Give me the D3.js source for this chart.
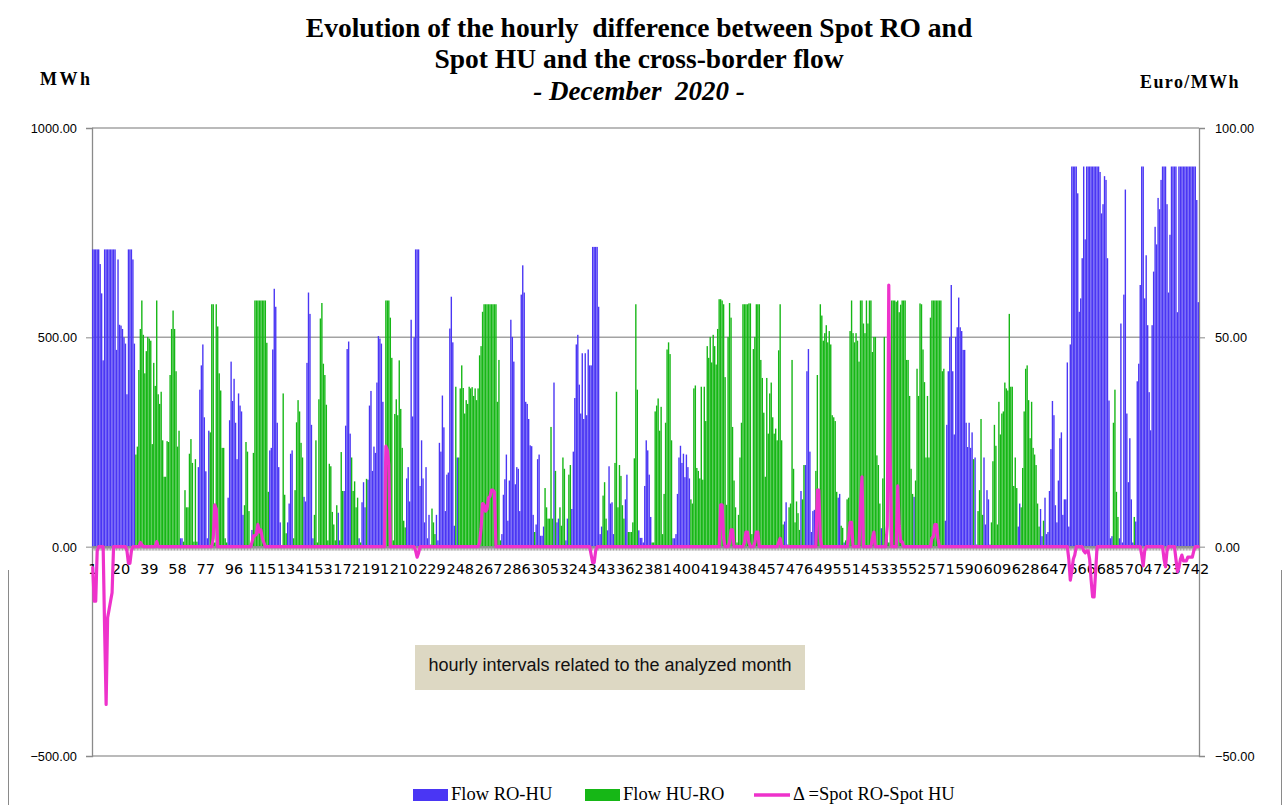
<!DOCTYPE html>
<html><head><meta charset="utf-8">
<script src="https://cdn.jsdelivr.net/npm/d3@7"></script>
<style>html,body{margin:0;padding:0;background:#fff;}svg{display:block;}</style>
</head><body>
<svg id="chart" width="1287" height="805"></svg>
<script>
// Net hourly flow, MWh, one row per day (positive = Flow RO-HU, negative = Flow HU-RO)
const netFlowByDay = [
[710,710,710,710,710,675,605,445,710,710,710,710,710,710,710,710,470,686,530,528,520,500,485,364],
[710,710,710,686,485,-220,-239,-422,-520,-588,-506,-414,-467,-501,-497,-492,-245,-439,-384,-588,-364,-341,-370,-254],
[-167,-167,-252,-250,-410,-520,-564,-520,-419,-239,-277,20,20,-12,-135,-94,-94,-222,-257,-200,-12,-209,-12,190],
[375,433,483,309,180,20,277,-273,-579,-579,-10,-579,-526,-414,-373,-236,-236,-20,-10,117,302,442,348,401],
[296,209,366,337,323,76,-99,-250,-227,-85,-5,40,-224,-588,-588,-588,-588,-588,-588,-588,-588,-487,-131,230],
[236,471,616,573,296,190,58,0,-366,-124,-32,58,103,222,230,-20,-135,-297,-350,-323,-248,-213,119,108],
[439,607,556,291,20,-76,-254,-10,-352,-545,-582,-437,-410,-339,-15,-198,-192,-83,-53,-15,-99,81,-15,-226],
[-133,133,289,472,490,270,-213,-133,-156,-94,-117,20,-10,106,154,94,-162,160,337,372,181,239,224,392],
[503,497,485,346,10,-588,-588,-588,-547,-451,-15,-317,-352,-314,-445,-329,-236,-62,-46,163,190,108,542,311],
[500,710,710,710,145,254,163,58,190,20,76,5,-91,-58,-30,76,15,248,227,361,285,85,172,177],
[521,597,488,50,-382,213,-213,-378,-433,-379,-318,-350,-341,-382,-378,-381,-360,-378,-350,-378,-457,-479,-561,-579],
[-579,-579,-579,-579,-579,-579,-579,-579,-346,-446,-15,30,124,161,220,62,158,542,501,442,149,190,186,85],
[602,672,607,346,341,305,242,240,76,-35,53,209,220,26,26,48,-140,-94,-67,-67,-286,-67,392,-181],
[58,67,-94,-50,-213,-186,15,67,-172,-195,90,227,355,483,506,387,318,462,305,462,314,471,433,433],
[716,716,716,716,573,30,48,-122,-154,-67,39,192,103,106,30,-200,-370,-94,-195,-169,-99,-67,113,172],
[-35,-35,-35,-58,-211,-579,-375,39,21,21,10,145,254,230,172,71,-10,-10,-323,-337,-354,-277,-334,-30],
[-126,-296,-471,-488,-460,-254,20,20,30,126,213,241,200,222,166,220,190,163,-113,-103,-378,-385,-188,-181],
[-163,-382,-160,-382,-300,-479,-451,-501,-440,-506,-479,-435,-520,-591,-591,-588,-579,-405,-100,-501,-582,-547,-286,-158],
[-94,-10,-76,-213,-296,-579,-579,-579,-579,-581,-581,-30,-472,-501,-579,-579,-579,-446,-403,-320,-167,-403,-270,-366],
[-392,-309,-270,-282,-254,-469,-579,-254,-53,60,106,5,-94,-103,-446,-186,-58,-108,-80,-40,133,-113,-195,195],
[419,472,227,35,85,88,-181,-410,-138,-579,-552,-492,-510,-529,-488,-515,-483,-314,-309,-300,-131,117,126,-50],
[-45,10,-15,-113,-117,-515,-588,-510,-488,-510,-492,-442,-588,-588,-533,-510,-588,-533,-588,-588,-465,-501,-501,-218],
[-195,-103,44,-163,-501,-30,-20,-10,-200,-588,-588,-588,-585,-588,-560,-578,-588,-588,-588,-446,-446,-360,-186,-126],
[119,-158,-425,-360,-581,-579,-471,-393,-213,-360,-213,-547,-588,-588,-588,-588,-588,-588,-588,-419,-425,62,291,419],
[501,625,419,268,501,524,595,524,515,470,470,296,238,296,236,273,-209,213,5,-85,-135,-305,-76,213],
[53,135,113,5,-58,-204,-291,-241,-53,-346,-268,-318,-323,-392,-378,-373,-556,-382,-382,-145,-213,-140,48,103],
[-94,-188,-323,-425,-433,-350,-259,-346,-236,-220,-195,-103,-48,90,25,-62,117,30,35,133,233,348,314,99],
[58,158,259,273,76,113,113,440,48,483,908,908,908,908,844,561,593,689,908,734,908,908,908,908],
[908,908,908,908,908,895,796,818,885,876,689,349,20,25,-296,-375,-131,-71,20,533,10,602,853,318],
[154,259,113,10,-71,60,395,437,625,908,908,593,696,529,369,278,529,657,764,722,833,806,876,908],
[908,908,818,607,745,908,908,908,908,560,908,908,908,908,908,908,908,908,908,908,908,908,828,584]
];
// Δ = Spot RO - Spot HU, Euro/MWh, one row per day
const spreadByDay = [
[-5,-13,-13,-1,0,0,0,0,-20,-37.7,-17,-15,-13,-11,0,0,0,0,0,0,0,0,0,-1],
[-4,-4,-1,0,0,0,0,0,1,0.5,0,0,0,0,0,0,0,0,0,1.2,0,0,0,0],
[0,0,0,0,0,0,0,0,0,0,0,0,0,0,0,0,0,0,0,0,0,0,0,0],
[0,0,0,0,0,0,0,0,0,2,10,9,0,0,0,0,0,0,0,0,0,0,0,0],
[0,0,0,0,0,0,0,0,0,0,0,1,2.6,2.6,3,5.3,3.5,4,2,1,0,0,0,0],
[0,0,0,0,0,0,0,0,0,0,0,0,0,0,0,0,0,0,0,0,0,0,0,0],
[0,0,0,0,0,0,0,0,0,0,0,0,0,0,0,0,0,0,0,0,0,0,0,0],
[0,0,0,0,0,0,0,0,0,0,0,0,0,0,0,0,0,0,0,0,0,0,0,0],
[0,0,0,0,0,24,23,19.5,0,0,0,0,0,0,0,0,0,0,0,0,0,0,0,0],
[0,-1,-2.5,-1.5,0,0,0,0,0,0,0,0,0,0,0,0,0,0,0,0,0,0,0,0],
[0,0,0,0,0,0,0,0,0,0,0,0,0,0,0,0,0,0,0,0,1,4.4,10.3,10],
[8.5,9,11.7,12,13.5,13.5,13,0,0,0,0,0,0,0,0,0,0,0,0,0,0,0,0,0],
[0,0,0,0,0,0,0,0,0,0,0,0,0,0,0,0,0,0,0,0,0,0,0,0],
[0,0,0,0,0,0,0,0,0,0,0,0,0,0,0,0,0,0,0,0,0,0,0,-2],
[-3.8,-3.8,-1,0,0,0,0,0,0,0,0,0,0,0,0,0,0,0,0,0,0,0,0,0],
[0,0,0,0,0,0,0,0,0,0,0,0,0,0,0,0,0,0,0,0,0,0,0,0],
[0,0,0,0,0,0,0,0,0,0,0,0,0,0,0,0,0,0,0,0,0,0,0,0],
[0,0,0,0,0,0,0,0,0,0,0,0,0,0,10,10,2,0,0,0,1,4,4,0],
[0,0,0,0,0,0,1,3.5,3.5,1,0,0,0,1,3.5,3.5,0,0,0,0,0,0,0,0],
[0,0,0,0,0,1,2,0,0,0,0,0,0,0,0,0,0,0,0,0,0,0,0,0],
[0,0,0,0,0,0,0,13.5,13.5,2,0,0,0,0,0,0,0,0,0,0,0,0,0,0],
[0,0,0,0,2,5.8,5.8,0,0,0,0,0,10,16.7,0,0,0,0,0,0,2,3.5,0,0],
[0,0,0,0,0,0,5,62.5,20,0,0,0,0,14.5,5,1.2,1.2,0,0,0,0,0,0,0],
[0,0,0,0,0,0,0,0,0,0,0,0,2,2.5,5.3,5.3,2,0,0,0,0,0,0,0],
[0,0,0,0,0,0,0,0,0,0,0,0,0,0,0,0,0,0,0,0,0,0,0,0],
[0,0,0,0,0,0,0,0,0,0,0,0,0,0,0,0,0,0,0,0,0,0,0,0],
[0,0,0,0,0,0,0,0,0,0,0,0,0,0,0,0,0,0,0,0,0,0,0,0],
[0,0,0,0,0,0,0,0,-3,-8,-6,-3,-2,0,0,0,0,0,-1,-1.5,-1,-1,-3,-8],
[-12,-12,-6,0,0,0,0,0,0,0,0,0,0,0,0,0,0,0,0,0,0,0,0,0],
[0,0,0,0,0,0,0,0,0,-2,-4.6,-1,0,0,0,0,0,0,0,0,0,0,0,0],
[-3,-4.8,-1,0,0,0,0,0,-3,-6,-5,-3,-2,-3.4,-3.4,-3.4,-2.5,-2.5,-2.5,-2.5,-1,0,0,0]
];
const xTickLabels = [1,20,39,58,77,96,115,134,153,172,191,210,229,248,267,286,305,324,343,362,381,400,419,438,457,476,495,514,533,552,571,590,609,628,647,666,685,704,723,742];
const leftTicks = [1000, 500, 0, -500];
const rightTicks = [100, 50, 0, -50];
const titleLines = ["Evolution of the hourly  difference between Spot RO and", "Spot HU and the cross-border flow"];
const subtitle = "- December  2020 -";
const seriesNames = ["Flow RO-HU", "Flow HU-RO", "\u0394 =Spot RO-Spot HU"];
const colors = {roHu: "#4A36F4", huRo: "#16B716", spread: "#EE32CB"};

const netFlow = netFlowByDay.flat();
const spread = spreadByDay.flat();
const hours = netFlow.map((_, i) => i + 1);
const flowRoHu = netFlow.map(v => Math.max(v, 0));
const flowHuRo = netFlow.map(v => Math.max(-v, 0));

const svg = d3.select("#chart");
const L = 92, R = 1199, T = 128, B = 756;
const x = d3.scaleBand().domain(hours).range([L, R]).paddingInner(0.07).paddingOuter(0.03);
const yL = d3.scaleLinear().domain([-500, 1000]).range([B, T]);
const yR = d3.scaleLinear().domain([-50, 100]).range([B, T]);
const bw = x.bandwidth();
const sans = "Liberation Sans, Arial, sans-serif";
const serif = "Liberation Serif, Times New Roman, serif";

// gridlines
svg.append("g").selectAll("line").data(leftTicks.filter(d => d !== 0)).join("line")
  .attr("x1", L).attr("x2", R).attr("y1", d => yL(d)).attr("y2", d => yL(d))
  .attr("stroke", "#A3A3A3").attr("stroke-width", 1.5);

// left and right axes
svg.append("g").attr("transform", `translate(${L},0)`)
  .call(d3.axisLeft(yL).tickValues(leftTicks).tickSize(6).tickFormat(d3.format(".2f")))
  .call(g => g.select(".domain").attr("stroke", "#8A8A8A").attr("stroke-width", 1.3))
  .call(g => g.selectAll(".tick line").attr("stroke", "#8A8A8A"))
  .call(g => g.selectAll("text").attr("font-family", sans)
      .attr("font-size", 12.8).attr("fill", "#000").attr("x", -15).attr("dy", "0.36em"));
svg.append("g").attr("transform", `translate(${R},0)`)
  .call(d3.axisRight(yR).tickValues(rightTicks).tickSize(6).tickFormat(d3.format(".2f")))
  .call(g => g.select(".domain").attr("stroke", "#8A8A8A").attr("stroke-width", 1.3))
  .call(g => g.selectAll(".tick line").attr("stroke", "#8A8A8A"))
  .call(g => g.selectAll("text").attr("font-family", sans)
      .attr("font-size", 12.8).attr("fill", "#000").attr("x", 16).attr("dy", "0.36em"));

// bars
svg.append("g").selectAll("rect").data(hours).join("rect")
  .attr("x", h => x(h)).attr("width", bw)
  .attr("y", (h, i) => yL(flowRoHu[i])).attr("height", (h, i) => yL(0) - yL(flowRoHu[i]))
  .attr("fill", colors.roHu);
svg.append("g").selectAll("rect").data(hours).join("rect")
  .attr("x", h => x(h)).attr("width", bw)
  .attr("y", (h, i) => yL(flowHuRo[i])).attr("height", (h, i) => yL(0) - yL(flowHuRo[i]))
  .attr("fill", colors.huRo);

// category axis at zero: dense tick band + labels
svg.append("g").attr("transform", `translate(0,${yL(0)})`)
  .call(d3.axisBottom(x).tickValues(hours).tickSize(4).tickSizeOuter(0).tickFormat(""))
  .call(g => g.select(".domain").attr("stroke", "#8C8C8C").attr("stroke-width", 2.5))
  .call(g => g.selectAll(".tick line").attr("stroke", "#9A9A9A").attr("stroke-width", 0.9));
svg.append("g").attr("transform", `translate(0,${yL(0)})`)
  .call(d3.axisBottom(x).tickValues(xTickLabels).tickSize(0))
  .call(g => g.select(".domain").remove())
  .call(g => g.selectAll("text").attr("font-family", "DejaVu Sans, Verdana, sans-serif")
      .attr("font-size", 14.5).attr("fill", "#000").attr("y", 17).attr("dy", "0.71em"));

// spread line
const line = d3.line().x((d, i) => x(hours[i]) + bw / 2).y(d => yR(d));
svg.append("path").datum(spread).attr("d", line).attr("fill", "none")
  .attr("stroke", colors.spread).attr("stroke-width", 3.2).attr("stroke-linejoin", "round").attr("stroke-linecap", "round");

// annotation box
svg.append("rect").attr("x", 415).attr("y", 645).attr("width", 390).attr("height", 45).attr("fill", "#DDD8C3");
svg.append("text").attr("x", 610).attr("y", 671).attr("text-anchor", "middle")
  .attr("font-family", sans).attr("font-size", 18).attr("fill", "#111")
  .text("hourly intervals related to the analyzed month");

// titles
svg.append("g").selectAll("text").data(titleLines).join("text")
  .attr("x", 639).attr("y", (d, i) => 37 + i * 31).attr("text-anchor", "middle")
  .attr("font-family", serif).attr("font-weight", "bold").attr("font-size", 27.5).attr("fill", "#000")
  .style("white-space", "pre").text(d => d);
svg.append("text").attr("x", 639).attr("y", 100).attr("text-anchor", "middle")
  .attr("font-family", serif).attr("font-weight", "bold").attr("font-style", "italic").attr("font-size", 27)
  .style("white-space", "pre").text(subtitle);
svg.append("text").attr("x", 40).attr("y", 85).attr("font-family", serif).attr("font-weight", "bold")
  .attr("font-size", 18).attr("letter-spacing", 2.5).text("MWh");
svg.append("text").attr("x", 1140).attr("y", 88).attr("font-family", serif).attr("font-weight", "bold")
  .attr("font-size", 18).attr("letter-spacing", 1.4).text("Euro/MWh");

// outer frame fragments
svg.append("line").attr("x1", 8.5).attr("x2", 8.5).attr("y1", 570).attr("y2", 805).attr("stroke", "#8A8A8A");
svg.append("line").attr("x1", 1281.5).attr("x2", 1281.5).attr("y1", 570).attr("y2", 805).attr("stroke", "#8A8A8A");

// legend
const lg = svg.append("g").attr("font-family", serif).attr("font-size", 18.5);
const legendItems = [
  {name: seriesNames[0], type: "rect", color: colors.roHu, x: 413},
  {name: seriesNames[1], type: "rect", color: colors.huRo, x: 585},
  {name: seriesNames[2], type: "line", color: colors.spread, x: 754}
];
legendItems.forEach(it => {
  if (it.type === "rect") lg.append("rect").attr("x", it.x).attr("y", 789).attr("width", 35).attr("height", 12).attr("fill", it.color);
  else lg.append("line").attr("x1", it.x).attr("x2", it.x + 36).attr("y1", 795).attr("y2", 795).attr("stroke", it.color).attr("stroke-width", 3.5);
  lg.append("text").attr("x", it.x + (it.type === "rect" ? 38 : 39)).attr("y", 800).text(it.name);
});
</script>
</body></html>
